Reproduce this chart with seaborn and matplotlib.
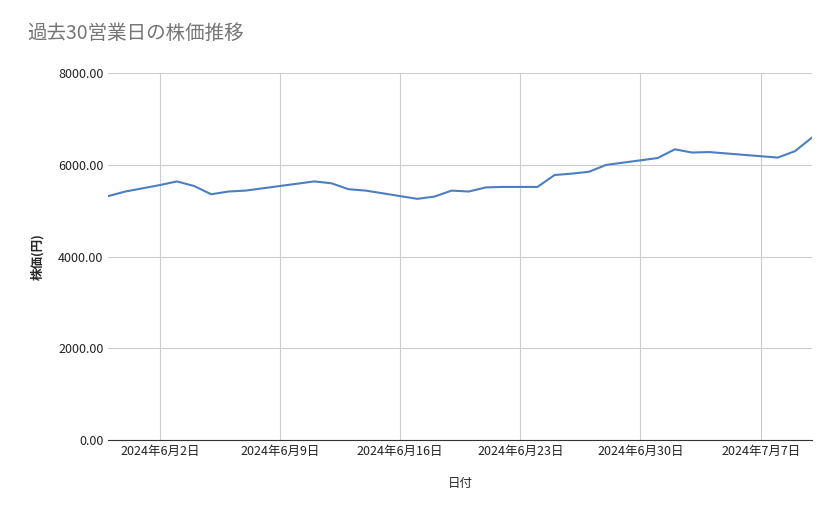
import pandas as pd
import matplotlib.pyplot as plt
import seaborn as sns

START = "2024-05-30"
PRICES = [5320, 5420, 5490, 5560, 5640, 5540, 5360, 5420, 5440, 5490,
          5540, 5590, 5640, 5600, 5470, 5440, 5380, 5320, 5260, 5310,
          5440, 5420, 5510, 5520, 5520, 5520, 5780, 5810, 5850, 6000,
          6050, 6100, 6150, 6340, 6270, 6280, 6250, 6220, 6190, 6160,
          6300, 6600]
TICK_DATES = ["2024-06-02", "2024-06-09", "2024-06-16", "2024-06-23",
              "2024-06-30", "2024-07-07"]
Y_TICKS = [0, 2000, 4000, 6000, 8000]

df = pd.DataFrame({"date": pd.date_range(START, periods=len(PRICES), freq="D"),
                   "price": PRICES})

sns.set_style("white")
plt.rcParams['font.family'] = ['Noto Sans CJK JP', 'DejaVu Sans']

fig = plt.figure(figsize=(8.39, 5.19), dpi=100)
ax = fig.add_axes([0.129, 0.152, 0.839, 0.707])
sns.lineplot(data=df, x="date", y="price", color="#4a7fc1", lw=1.5, ax=ax)

ticks = pd.to_datetime(TICK_DATES)
ax.set_xticks(ticks)
ax.set_xticklabels([f"{d.year}年{d.month}月{d.day}日" for d in ticks], fontsize=9, color="#222222")
ax.set_xlim(df["date"].iloc[0], df["date"].iloc[-1])
ax.set_yticks(Y_TICKS)
ax.set_yticklabels([f"{v:.2f}" for v in Y_TICKS], fontsize=9, color="#222222")
ax.set_ylim(0, 8000)
ax.grid(True, color="#cccccc", lw=0.8)
ax.tick_params(length=0)
for s in ["top", "right", "left"]:
    ax.spines[s].set_visible(False)
ax.spines["bottom"].set_color("#333333")

ax.set_xlabel("日付", fontsize=9, labelpad=14)
ax.set_ylabel("株価(円)", fontsize=9, fontweight="bold", labelpad=10)
fig.text(0.032, 0.925, "過去30営業日の株価推移", fontsize=14, color="#757575")

plt.savefig("out.png", dpi=100)
plt.close(fig)
